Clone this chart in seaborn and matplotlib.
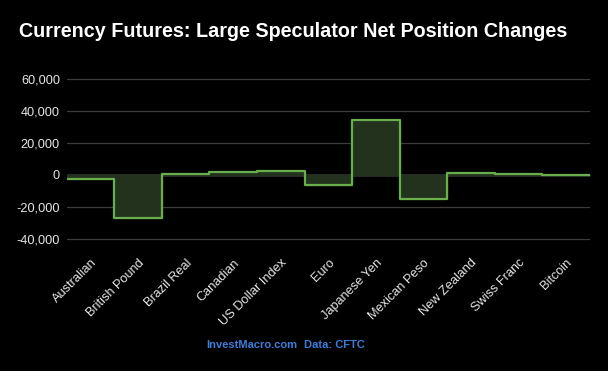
import numpy as np
import matplotlib
matplotlib.use('Agg')
import matplotlib.pyplot as plt
import matplotlib.transforms as mtransforms
import seaborn as sns

# net position changes per currency (contracts)
currencies = ['Australian', 'British Pound', 'Brazil Real', 'Canadian', 'US Dollar Index',
              'Euro', 'Japanese Yen', 'Mexican Peso', 'New Zealand', 'Swiss Franc', 'Bitcoin']
net_change = [-2500, -26700, 800, 1900, 2500, -6500, 34400, -15200, 1000, 400, -300]
y_ticks = [-40000, -20000, 0, 20000, 40000, 60000]

sns.set_theme(style='dark')
plt.rcParams['font.family'] = ['Liberation Sans', 'DejaVu Sans']

fig = plt.figure(figsize=(6.08, 3.71), dpi=100, facecolor='black')
ax = fig.add_axes([0.110, 0.334, 0.860, 0.488], facecolor='black')

# step edges: each category gets a full-width step
n = len(net_change)
edges = np.arange(n + 1) - 0.5
vals = np.append(net_change, net_change[-1])

for t in y_ticks:
    if t != 0:
        ax.axhline(t, color='#3c3c3c', lw=0.9, zorder=0)
ax.axhline(0, color='#d0d0d0', lw=1.0, zorder=1)

ax.fill_between(edges, vals, 0, step='post', color='#22321c', zorder=2)
sns.lineplot(x=edges, y=vals, drawstyle='steps-post', color='#6aae4c', lw=1.6,
             solid_joinstyle='round', solid_capstyle='round', ax=ax, zorder=3)

ax.set_xlim(-0.5, n - 0.5)
ax.set_ylim(-45000, 68000)
ax.set_yticks(y_ticks)
ax.set_yticklabels([f'{t:,}' for t in y_ticks], color='#e6e6e6', fontsize=9.2)
ax.set_xticks(range(n))
ax.set_xticklabels(currencies, rotation=45, ha='right', rotation_mode='anchor',
                   color='#e6e6e6', fontsize=9.2)
offset = mtransforms.ScaledTranslation(4 / 100, 0, fig.dpi_scale_trans)
for lab in ax.get_xticklabels():
    lab.set_transform(lab.get_transform() + offset)
ax.tick_params(axis='both', length=0, pad=5)
ax.tick_params(axis='x', pad=7)
ax.grid(False)
for s in ax.spines.values():
    s.set_visible(False)
ax.set_xlabel('')
ax.set_ylabel('')

fig.text(0.031, 0.914, 'Currency Futures: Large Speculator Net Position Changes',
         color='white', fontsize=14.2, fontweight='bold', va='center', ha='left')
fig.text(0.340, 0.070, 'InvestMacro.com', color='#3d7edb', fontsize=8, fontweight='bold',
         va='center', ha='left')
fig.text(0.500, 0.070, 'Data: CFTC', color='#3d7edb', fontsize=8, fontweight='bold',
         va='center', ha='left')

fig.savefig('out.png', dpi=100, facecolor='black')
